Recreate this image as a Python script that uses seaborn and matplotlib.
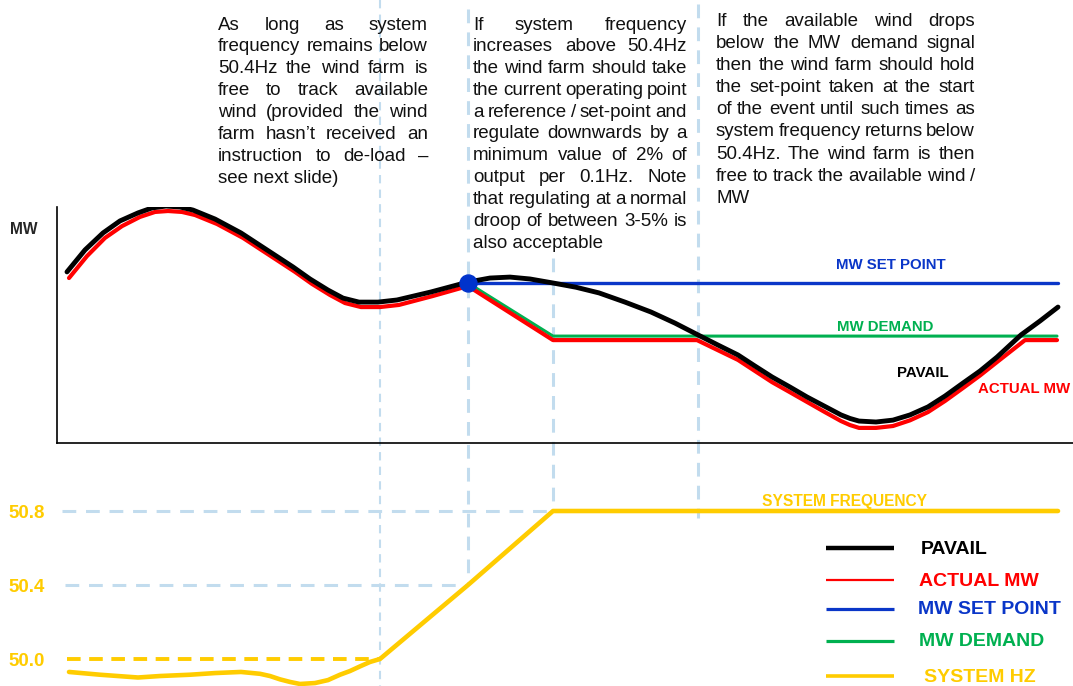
import matplotlib
matplotlib.use("Agg")
import matplotlib.pyplot as plt
import pandas as pd
import seaborn as sns

# time axis shared by both panels (same units across the figure width)
t_pavail = [67, 85, 103, 120, 138, 152, 166, 180, 193, 215, 241, 267, 293, 310, 328, 343, 359, 378,
            397, 431, 468, 490, 510, 530, 553, 576, 599, 625, 651, 675, 698, 718, 738, 755, 772, 790,
            807, 824, 841, 850, 859, 876, 893, 910, 928, 945, 963, 980, 997, 1021, 1040, 1058]
mw_pavail = [72.5, 81.8, 89.0, 94.1, 97.5, 99.6, 100.4, 100.0, 98.7, 94.9, 89.0, 81.8, 74.6, 69.5,
             64.8, 61.4, 59.7, 59.7, 60.6, 64.0, 68.2, 69.9, 70.3, 69.5, 67.8, 66.0, 63.6, 59.7, 55.5,
             50.8, 45.8, 41.5, 37.3, 32.6, 28.0, 23.7, 19.5, 15.7, 11.9, 10.4, 9.3, 8.9, 9.7, 11.9,
             15.3, 19.9, 25.4, 30.5, 36.4, 45.8, 51.7, 57.6]

t_actual = [69, 87, 105, 122, 140, 155, 168, 182, 195, 217, 243, 269, 295, 312, 330, 345, 361, 380,
            399, 433, 468, 553, 697, 718, 738, 755, 772, 790, 807, 824, 841, 850, 859, 876, 893, 910,
            928, 945, 963, 980, 997, 1025, 1057]
mw_actual = [69.9, 79.2, 86.9, 91.9, 95.8, 97.9, 98.3, 97.9, 96.6, 92.8, 86.9, 79.7, 72.5, 67.4, 62.7,
             59.3, 57.6, 57.6, 58.5, 62.3, 66.5, 43.6, 43.6, 39.3, 35.2, 30.5, 25.8, 21.5, 17.4, 13.3,
             9.3, 7.6, 6.4, 6.4, 7.2, 9.6, 13.1, 17.8, 23.3, 28.6, 34.3, 43.6, 43.6]

t_setpoint = [468, 1058]
mw_setpoint = [67.8, 67.8]

t_demand = [468, 553, 1057]
mw_demand = [67.8, 45.3, 45.3]

t_freq = [69, 100, 138, 160, 190, 215, 241, 260, 270, 280, 290, 300, 315, 328, 340, 350, 360, 370,
          380, 468, 553, 1058]
hz_freq = [49.93, 49.915, 49.90, 49.908, 49.915, 49.924, 49.93, 49.92, 49.908, 49.89, 49.876,
           49.865, 49.87, 49.886, 49.915, 49.935, 49.96, 49.984, 50.0, 50.4, 50.8, 50.8]

event_t = 468  # frequency crosses 50.4Hz
hz_ticks = [50.0, 50.4, 50.8]
hz_labels = ["50.0", "50.4", "50.8"]

legend_labels = ["PAVAIL", "ACTUAL MW", "MW SET POINT", "MW DEMAND", "SYSTEM HZ"]

text_1 = ["As long as system", "frequency remains below", "50.4Hz the wind farm is",
          "free to track available", "wind (provided the wind", "farm hasn\u2019t received an",
          "instruction to de-load \u2013", "see next slide)"]
text_2 = ["If system frequency", "increases above 50.4Hz", "the wind farm should take",
          "the current operating point", "a reference / set-point and", "regulate downwards by a",
          "minimum value of 2% of", "output per 0.1Hz. Note", "that regulating at a normal",
          "droop of between 3-5% is", "also acceptable"]
text_3 = ["If the available wind drops", "below the MW demand signal", "then the wind farm should hold",
          "the set-point taken at the start", "of the event until such times as",
          "system frequency returns below", "50.4Hz. The wind farm is then",
          "free to track the available wind /", "MW"]

BLACK, RED, BLUE, GREEN, YELLOW = "black", "#ff0000", "#0a36c8", "#00b050", "#ffcc00"
GUIDE = "#c2dcee"

sns.set_style("white")
plt.rcParams["font.family"] = ["Liberation Sans", "DejaVu Sans"]

W, H = 1073, 686
fig = plt.figure(figsize=(W / 100, H / 100), dpi=100)

# overlay in pixel units for notes, guides and key
ov = fig.add_axes([0, 0, 1, 1])
ov.set_xlim(0, W)
ov.set_ylim(H, 0)
ov.axis("off")

# top panel: MW
ax = fig.add_axes([57 / W, 1 - 443 / H, (W - 57) / W, (443 - 207) / H])
ax.patch.set_alpha(0)
ax.set_xlim(57, W)
ax.set_ylim(0, 100)

df_p = pd.DataFrame({"t": t_pavail, "mw": mw_pavail})
df_a = pd.DataFrame({"t": t_actual, "mw": mw_actual})
df_s = pd.DataFrame({"t": t_setpoint, "mw": mw_setpoint})
df_d = pd.DataFrame({"t": t_demand, "mw": mw_demand})

sns.lineplot(data=df_s, x="t", y="mw", ax=ax, color=BLUE, lw=2.4, sort=False, estimator=None)
sns.lineplot(data=df_d, x="t", y="mw", ax=ax, color=GREEN, lw=2.2, sort=False, estimator=None)
sns.lineplot(data=df_a, x="t", y="mw", ax=ax, color=RED, lw=3.0, sort=False, estimator=None)
sns.lineplot(data=df_p, x="t", y="mw", ax=ax, color=BLACK, lw=3.5, sort=False, estimator=None)
ax.scatter([event_t], [mw_setpoint[0]], s=150, color="#0033cc", zorder=5)

for s in ["top", "right"]:
    ax.spines[s].set_visible(False)
for s in ["left", "bottom"]:
    ax.spines[s].set_color("black")
    ax.spines[s].set_linewidth(1.2)
ax.set_xticks([])
ax.set_yticks([])
ax.set_xlabel("")
ax.set_ylabel("")

lab = dict(fontsize=10.8, fontweight="bold")
ax.text(891, 75.4, "MW SET POINT", color=BLUE, ha="center", va="center", **lab)
ax.text(885, 49.2, "MW DEMAND", color=GREEN, ha="center", va="center", **lab)
ax.text(923, 29.7, "PAVAIL", color=BLACK, ha="center", va="center", **lab)
ax.text(1070, 22.9, "ACTUAL MW", color=RED, ha="right", va="center", **lab)

# bottom panel: frequency
bx = fig.add_axes([57 / W, 0, (W - 57) / W, (H - 480) / H])
bx.patch.set_alpha(0)
bx.set_xlim(57, W)
bx.set_ylim(50 - 27 / 185, 50 + 179 / 185)
df_f = pd.DataFrame({"t": t_freq, "hz": hz_freq})

bx.hlines(hz_ticks[2], 62, 553, color=GUIDE, lw=2.2, linestyles=(0, (4.5, 3.2)), zorder=1)
bx.hlines(hz_ticks[1], 65, 468, color=GUIDE, lw=2.2, linestyles=(0, (4.5, 3.2)), zorder=1)
bx.hlines(hz_ticks[0], 67, 380, color=YELLOW, lw=2.8, linestyles=(0, (3.5, 2.2)), zorder=1)
sns.lineplot(data=df_f, x="t", y="hz", ax=bx, color=YELLOW, lw=3.3, sort=False, estimator=None,
             zorder=3)
for s in bx.spines.values():
    s.set_visible(False)
bx.set_xticks([])
bx.set_yticks(hz_ticks)
bx.set_yticklabels(hz_labels)
bx.tick_params(axis="y", length=0, pad=9, labelcolor=YELLOW, labelsize=13.5)
for tl in bx.get_yticklabels():
    tl.set_fontweight("bold")
bx.set_xlabel("")
bx.set_ylabel("")
bx.text(844, 50.8 + 10 / 185, "SYSTEM FREQUENCY", color=YELLOW, ha="center", va="center",
        fontsize=11.2, fontweight="bold")

# vertical guides
ov.vlines(380, 0, H, color=GUIDE, lw=1.5, linestyles=(0, (4, 3)), zorder=0)
ov.vlines(468, 9, 585, color=GUIDE, lw=2.2, linestyles=(0, (4.5, 3)), zorder=0)
ov.vlines(553, 258, 512, color=GUIDE, lw=2.2, linestyles=(0, (4.5, 3)), zorder=0)
ov.vlines(698, 4, 518, color=GUIDE, lw=2.2, linestyles=(0, (4.5, 3)), zorder=0)

ov.text(24, 229, "MW", ha="center", va="center", fontsize=11.2, fontweight="bold")

# key
key_y = [548, 580, 609, 641, 676]
key_c = [BLACK, RED, BLUE, GREEN, YELLOW]
key_w = [3.2, 1.6, 2.3, 2.3, 2.6]
key_x = [921, 919, 918, 919, 924]
for y, c, w, x, name in zip(key_y, key_c, key_w, key_x, legend_labels):
    ov.plot([826, 894], [y, y], color=c, lw=w, solid_capstyle="butt")
    ov.text(x, y + 1, name, color=c, ha="left", va="center", fontsize=14, fontweight="bold")

# justified notes
fig.canvas.draw()
rend = fig.canvas.get_renderer()
note = dict(fontsize=13.5, va="baseline", ha="left", color="#111111")


def justify(lines, x0, x1, y0, dy):
    for i, line in enumerate(lines):
        y = y0 + i * dy
        words = line.split()
        if i == len(lines) - 1 or len(words) == 1:
            ov.text(x0, y, line, **note)
            continue
        txts = [ov.text(0, y, w, **note) for w in words]
        widths = [t.get_window_extent(rend).width for t in txts]
        gap = (x1 - x0 - sum(widths)) / (len(words) - 1)
        x = x0
        for t, wd in zip(txts, widths):
            t.set_x(x)
            x += wd + gap


justify(text_1, 218, 428, 29.5, 21.9)
justify(text_2, 473, 687, 29.5, 21.8)
justify(text_3, 716, 975, 26, 22.1)

fig.savefig("out.png", dpi=100)
